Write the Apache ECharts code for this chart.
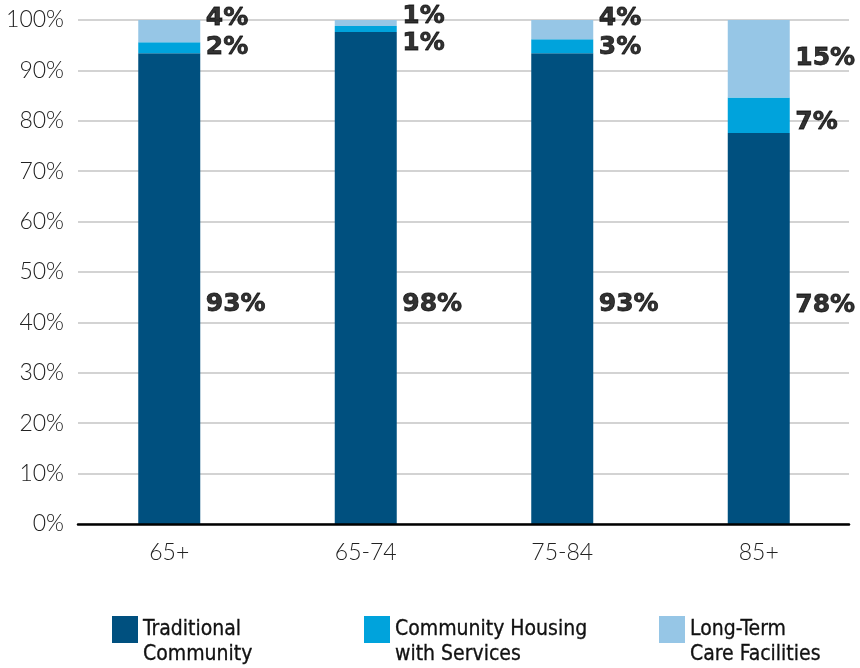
<!DOCTYPE html>
<html>
<head>
<meta charset="utf-8">
<script src="https://cdn.jsdelivr.net/npm/echarts@6/dist/echarts.min.js"></script>
<style>
  html, body { margin: 0; padding: 0; background: #fff; }
  #chart { width: 860px; height: 668px; }
</style>
</head>
<body>
<div id="chart"></div>
<script>
// age groups and share of each living arrangement (percent)
const ageGroups = ['65+', '65-74', '75-84', '85+'];
const traditional = [93.4, 97.6, 93.4, 77.6];
const housing = [2.2, 1.2, 2.8, 7.0];
const longTerm = [4.4, 1.2, 3.8, 15.4];
const yTicks = [0, 10, 20, 30, 40, 50, 60, 70, 80, 90, 100];

const names = ['Traditional\nCommunity', 'Community Housing\nwith Services', 'Long-Term\nCare Facilities'];
const colors = ['#00507f', '#00a3dc', '#96c6e6'];

// where the value labels sit (in axis units), one row per series
const labelAnchors = [
  [43.6, 43.6, 43.6, 43.4],
  [94.6, 95.4, 94.6, 79.7],
  [100.3, 100.6, 100.3, 92.3]
];

const chart = echarts.init(document.getElementById('chart'));
const seriesValues = [traditional, housing, longTerm];

const barSeries = seriesValues.map((vals, i) => ({
  type: 'bar',
  name: names[i],
  stack: 'total',
  xAxisIndex: 1,
  yAxisIndex: 1,
  barWidth: 62,
  itemStyle: { color: colors[i] },
  data: vals
}));

const labelSeries = seriesValues.map((vals, i) => ({
  type: 'scatter',
  xAxisIndex: 1,
  yAxisIndex: 1,
  symbolSize: 1,
  clip: false,
  itemStyle: { color: 'rgba(0,0,0,0)' },
  silent: true,
  z: 5,
  label: {
    show: true,
    position: 'right',
    distance: 36,
    fontFamily: 'DejaVu Sans',
    fontWeight: 'bold',
    fontSize: 25,
    color: '#000',
    textBorderColor: '#000',
    textBorderWidth: 0.8,
    formatter: p => Math.round(vals[p.dataIndex]) + '%'
  },
  data: ageGroups.map((g, k) => [g, labelAnchors[i][k]])
}));

const legendLefts = [107, 359, 654];
const legends = names.map((n, i) => ({
  data: [n],
  left: legendLefts[i],
  top: 587,
  itemWidth: 26,
  itemHeight: 27,
  icon: 'rect',
  selectedMode: false,
  // first line sits level with the swatch, second hangs below it
  formatter: name => '\n' + name,
  textStyle: {
    fontFamily: 'DejaVu Sans Condensed, Roboto, sans-serif',
    fontSize: 21,
    lineHeight: 25,
    color: '#111',
    textBorderColor: '#111',
    textBorderWidth: 0.3
  }
}));

chart.setOption({
  animation: false,
  backgroundColor: '#fff',
  legend: legends,
  grid: [
    { left: 78, right: 11, top: 20, bottom: 144 },
    { left: 71, right: 3, top: 20, bottom: 144 }
  ],
  xAxis: [
    {
      type: 'category',
      gridIndex: 0,
      data: ageGroups,
      axisLine: { show: true, lineStyle: { color: '#000', width: 2.5 } },
      axisTick: { show: false },
      axisLabel: { show: false },
      z: 10
    },
    {
      type: 'category',
      gridIndex: 1,
      data: ageGroups,
      axisLine: { show: false },
      axisTick: { show: false },
      axisLabel: {
        margin: 17,
        fontFamily: 'Lato',
        fontWeight: 300,
        fontSize: 23,
        color: '#222'
      }
    }
  ],
  yAxis: [
    {
      type: 'value',
      gridIndex: 0,
      min: yTicks[0],
      max: yTicks[yTicks.length - 1],
      interval: yTicks[1] - yTicks[0],
      axisLine: { show: false },
      axisTick: { show: false },
      splitLine: { lineStyle: { color: '#c4c4c4', width: 1.5 } },
      axisLabel: {
        margin: 14,
        formatter: '{value}%',
        fontFamily: 'Lato',
        fontWeight: 300,
        fontSize: 23,
        color: '#222'
      }
    },
    {
      type: 'value',
      gridIndex: 1,
      min: 0,
      max: 100,
      show: false,
      splitLine: { show: false }
    }
  ],
  series: barSeries.concat(labelSeries)
});
</script>
</body>
</html>
